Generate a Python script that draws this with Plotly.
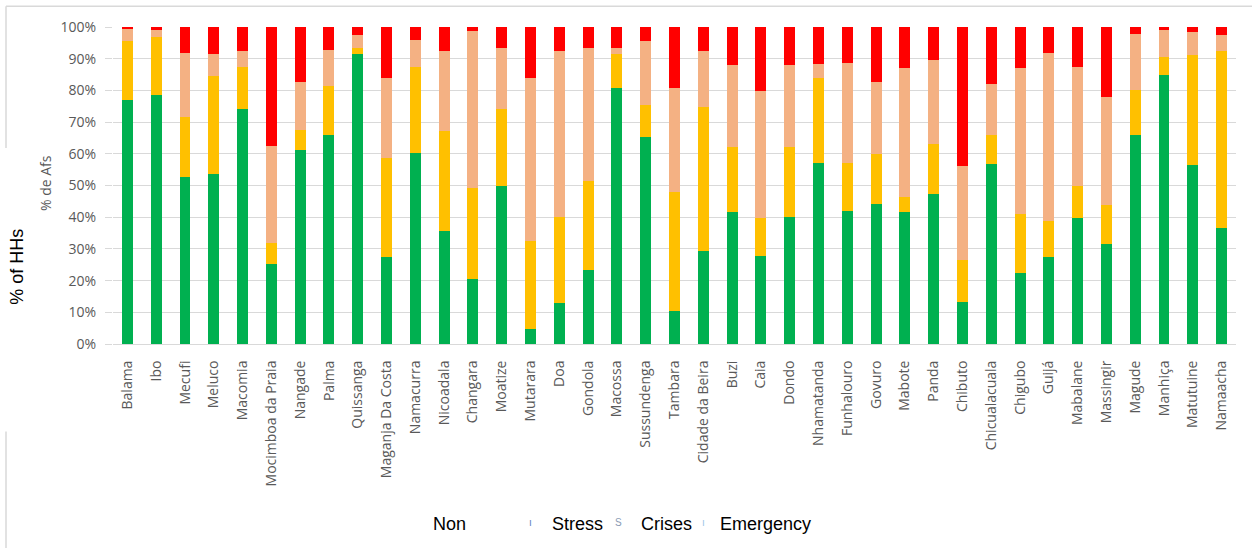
import plotly.graph_objects as go

# Districts and share of households (%) in each phase
districts = [
    "Balama", "Ibo", "Mecufi", "Meluco", "Macomia", "Mocimboa da Praia", "Nangade",
    "Palma", "Quissanga", "Maganja Da Costa", "Namacurra", "Nicoadala", "Changara",
    "Moatize", "Mutarara", "Doa", "Gondola", "Macossa", "Sussundenga", "Tambara",
    "Cidade da Beira", "Buzi", "Caia", "Dondo", "Nhamatanda", "Funhalouro", "Govuro",
    "Mabote", "Panda", "Chibuto", "Chicualacuala", "Chigubo", "Guijá", "Mabalane",
    "Massingir", "Magude", "Manhiça", "Matutuine", "Namaacha",
]

non = [77.1, 78.4, 52.7, 53.6, 74.0, 25.2, 61.3, 65.8, 91.6, 27.5, 60.4, 35.6, 20.6,
       50.0, 4.8, 13.0, 23.4, 80.7, 65.4, 10.3, 29.3, 41.5, 27.9, 40.0, 57.2, 41.9,
       44.1, 41.5, 47.4, 13.4, 56.8, 22.4, 27.5, 39.6, 31.5, 65.8, 84.8, 56.4, 36.5]
stress = [18.6, 18.6, 19.0, 31.1, 13.5, 6.8, 6.3, 15.7, 1.7, 31.1, 27.1, 31.5, 28.5,
          24.0, 27.7, 27.0, 28.0, 10.8, 9.9, 37.5, 45.6, 20.8, 11.8, 22.3, 26.6, 15.3,
          15.8, 4.8, 15.7, 13.2, 9.0, 18.6, 11.3, 10.4, 12.2, 14.4, 5.8, 34.7, 55.8]
crises = [3.9, 2.1, 20.2, 6.8, 4.8, 30.6, 14.9, 11.4, 4.1, 25.2, 8.5, 25.2, 49.5,
          19.3, 51.3, 52.4, 41.9, 1.8, 20.3, 32.9, 17.5, 25.6, 40.1, 25.6, 4.6, 31.6,
          22.6, 40.7, 26.6, 29.7, 16.3, 46.0, 53.1, 37.4, 34.3, 17.6, 8.5, 7.2, 5.1]
emergency = [0.4, 0.9, 8.1, 8.5, 7.7, 37.4, 17.5, 7.1, 2.6, 16.2, 4.0, 7.7, 1.4,
             6.7, 16.2, 7.6, 6.7, 6.7, 4.4, 19.3, 7.6, 12.1, 20.2, 12.1, 11.6, 11.2,
             17.5, 13.0, 10.3, 43.7, 17.9, 13.0, 8.1, 12.6, 22.0, 2.2, 0.9, 1.7, 2.6]

phases = [
    ("Non", non, "#00b050"),
    ("Stress", stress, "#ffc000"),
    ("Crises", crises, "#f4b183"),
    ("Emergency", emergency, "#ff0000"),
]

fig = go.Figure()
for name, vals, color in phases:
    fig.add_trace(go.Bar(
        x=districts, y=[v / 100 for v in vals], name=name,
        marker=dict(color=color, line=dict(width=0)),
        showlegend=False,
    ))

gray = "#595959"
PW, PH, L, T = 1123, 317.6, 113, 26.7


def px(x):
    return (x - L) / PW


def py(y):
    return (T + PH - y) / PH


fig.update_layout(
    width=1252, height=548,
    margin=dict(l=113, r=16, t=27, b=204),
    barmode="stack", bargap=0.62,
    plot_bgcolor="white", paper_bgcolor="white",
    font=dict(family="Open Sans", size=13, color=gray),
    xaxis=dict(
        tickangle=-90, showgrid=False, showline=True, linecolor="#d9d9d9",
        linewidth=1, ticks="", ticklabelstandoff=10,
        tickfont=dict(family="Open Sans", size=14, color=gray),
    ),
    yaxis=dict(
        range=[0, 1], tickformat=".0%", dtick=0.1, showgrid=True,
        gridcolor="#d9d9d9", gridwidth=1, zeroline=False, showline=False,
        ticks="outside", ticklen=7, tickcolor="#d9d9d9", ticklabelstandoff=6,
        tickfont=dict(family="Open Sans", size=14, color=gray),
    ),
)

# Outer frame (top and left edges), broken where the outer axis label sits
frame = dict(color="#d9d9d9", width=1.5)
fig.add_shape(type="line", xref="paper", yref="paper", x0=px(6), x1=px(1260),
              y0=py(6), y1=py(6), line=frame)
fig.add_shape(type="line", xref="paper", yref="paper", x0=px(6), x1=px(6),
              y0=py(6), y1=py(148), line=frame)
fig.add_shape(type="line", xref="paper", yref="paper", x0=px(6), x1=px(6),
              y0=py(432), y1=py(560), line=frame)

# Inner and outer y-axis titles
fig.add_annotation(text="% de Afs", xref="paper", yref="paper",
                   x=px(45), y=py(183), textangle=-90, xanchor="center", yanchor="middle",
                   showarrow=False, font=dict(family="Open Sans", size=14, color=gray))
fig.add_annotation(text="% of HHs", xref="paper", yref="paper",
                   x=px(17), y=py(267), textangle=-90, xanchor="center", yanchor="middle",
                   showarrow=False, font=dict(family="Arial", size=18, color="black"))

# Legend row
legend_items = [("Non", 449.5), ("Stress", 577), ("Crises", 666.5), ("Emergency", 765.5)]
for label, cx in legend_items:
    fig.add_annotation(text=label, xref="paper", yref="paper",
                       x=px(cx), y=py(525), xanchor="center", yanchor="middle",
                       showarrow=False, font=dict(family="Arial", size=18, color="black"))
marks = [("ı", 530, "#5a7fc0"), ("S", 618, "#8a9bb5"), ("ı", 703, "#9dc3e6")]
for glyph, cx, col in marks:
    fig.add_annotation(text=glyph, xref="paper", yref="paper",
                       x=px(cx), y=py(523), xanchor="center", yanchor="middle",
                       showarrow=False, font=dict(family="Arial", size=10, color=col))

fig.write_html("out.html")
